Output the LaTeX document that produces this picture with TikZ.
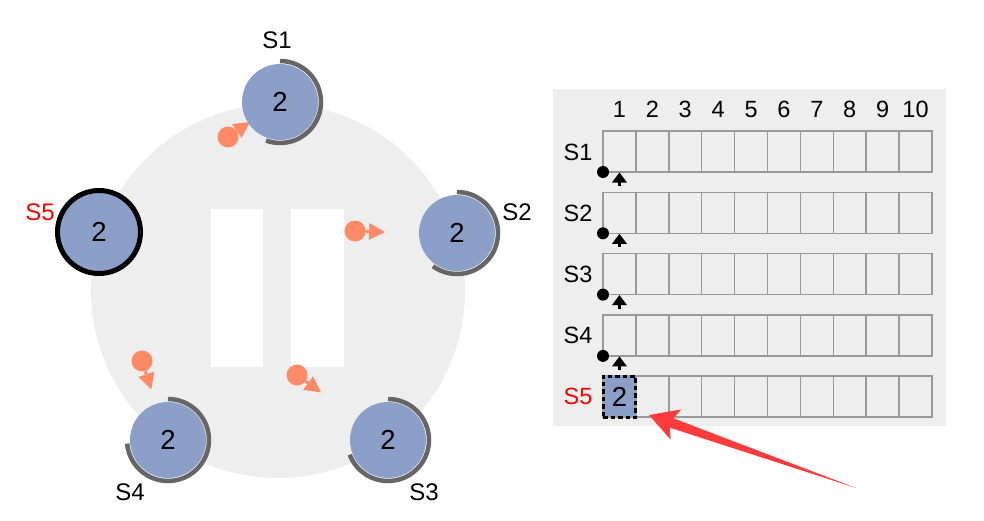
\documentclass[tikz,border=0pt]{standalone}
\usepackage{fontspec}
\setmainfont{Liberation Sans}
\usetikzlibrary{arrows.meta}
\definecolor{srvblue}{HTML}{8C9FC9}
\definecolor{bggrey}{HTML}{EEEEEE}
\definecolor{arcgrey}{HTML}{666666}
\definecolor{msgorange}{HTML}{FF8A65}
\definecolor{arrowred}{HTML}{FF3B3B}
\definecolor{cellline}{HTML}{999999}
\definecolor{lblred}{HTML}{FF0000}
\begin{document}
\begin{tikzpicture}[x=1pt,y=1pt,
  srv/.style={circle,fill=srvblue,minimum size=76pt,inner sep=0pt,font=\fontsize{27.5}{31}\selectfont},
  lbl/.style={font=\fontsize{24}{28}\selectfont,inner sep=0pt},
  glbl/.style={font=\fontsize{23.5}{27}\selectfont,inner sep=0pt},
  timer/.style={draw=arcgrey,line width=4.5pt},
  msg/.style={circle,fill=msgorange,minimum size=21pt,inner sep=0pt},
  msgarrow/.style={draw=msgorange,line width=3pt,-{Triangle[length=16pt,width=16pt]}},
  cell/.style={draw=cellline,line width=1.5pt,minimum width=32.9pt,minimum height=41pt,inner sep=0pt,outer sep=0pt},
  hlcell/.style={draw=black,fill=srvblue,line width=3pt,dash pattern=on 4.5pt off 3pt,minimum width=32.9pt,minimum height=41pt,inner sep=0pt,outer sep=0pt,font=\fontsize{27.5}{31}\selectfont},
  dotmark/.style={circle,fill=black,minimum size=12pt,inner sep=0pt},
  ptrstem/.style={draw=black,line width=3pt},
  ptrhead/.style={fill=black}
]
\useasboundingbox (0,0) rectangle (984,-520);

% ring background
\fill[bggrey] (278,-291) circle[radius=187pt];
\fill[white] (211,-209) rectangle (263,-367);
\fill[white] (291,-209) rectangle (344,-367);

% messages
\node[msg] (m1) at (228,-137) {};
\coordinate (m1t) at (250,-122);
\draw[msgarrow] (m1) -- (m1t);
\node[msg] (m2) at (355,-231) {};
\coordinate (m2t) at (385,-232);
\draw[msgarrow] (m2) -- (m2t);
\node[msg] (m3) at (142,-361) {};
\coordinate (m3t) at (151.3,-389.5);
\draw[msgarrow] (m3) -- (m3t);
\node[msg] (m4) at (297,-375) {};
\coordinate (m4t) at (321,-392.5);
\draw[msgarrow] (m4) -- (m4t);

% servers
\node[srv] (s1) at (280,-102) {2};
\node[srv] (s2) at (457,-233) {2};
\node[srv] (s3) at (388,-440) {2};
\node[srv] (s4) at (168,-440) {2};
\node[srv,draw=black,line width=5pt,minimum size=83pt] (s5) at (99,-232) {2};

\draw[timer] (s1.center) ++(90:41pt) arc[start angle=90,end angle=-110,radius=41pt];
\draw[timer] (s2.center) ++(90:41pt) arc[start angle=90,end angle=-126,radius=41pt];
\draw[timer] (s3.center) ++(90:41pt) arc[start angle=90,end angle=-159,radius=41pt];
\draw[timer] (s4.center) ++(90:41pt) arc[start angle=90,end angle=-175,radius=41pt];

\node[lbl] (l1) at (277,-40) {S1};
\node[lbl] (l2) at (517,-212) {S2};
\node[lbl] (l3) at (424,-492) {S3};
\node[lbl] (l4) at (130,-492) {S4};
\node[lbl,text=lblred] (l5) at (40,-212) {S5};

% log panel
\fill[bggrey] (553,-89) rectangle (946,-426);
\foreach \i in {1,...,10} {
  \node[glbl] (n\i) at ({603+32.9*(\i-0.5)},-109.5) {\i};
}
\foreach \r in {1,...,5} {
  \pgfmathsetmacro\cy{-(151.5+61.3*(\r-1))}
  \foreach \i in {1,...,10} {
    \node[cell] (c\r-\i) at ({603+32.9*(\i-0.5)},\cy) {};
  }
}
\foreach \r in {1,...,4} {
  \node[glbl] (g\r) at (578,{-(152+61.3*(\r-1))}) {S\r};
  \node[dotmark] (d\r) at (c\r-1.south west) {};
  \coordinate (pt\r) at ([yshift=-0.5pt]c\r-1.south);
  \draw[ptrstem] ([yshift=-9pt]pt\r) -- ([yshift=-13.5pt]pt\r);
  \fill[ptrhead] (pt\r) -- ([shift={(7.5pt,-10pt)}]pt\r) -- ([shift={(-7.5pt,-10pt)}]pt\r) -- cycle;
}
\node[glbl,text=lblred] (g5) at (578,-396) {S5};
\node[hlcell] (hl) at (c5-1) {2};

% red pointer arrow
\fill[arrowred] (649,-415) -- (681.2,-409.4) -- (673.3,-418.3) -- (856,-488)
  -- (669.9,-427.7) -- (670.6,-439.6) -- cycle;
\end{tikzpicture}
\end{document}
